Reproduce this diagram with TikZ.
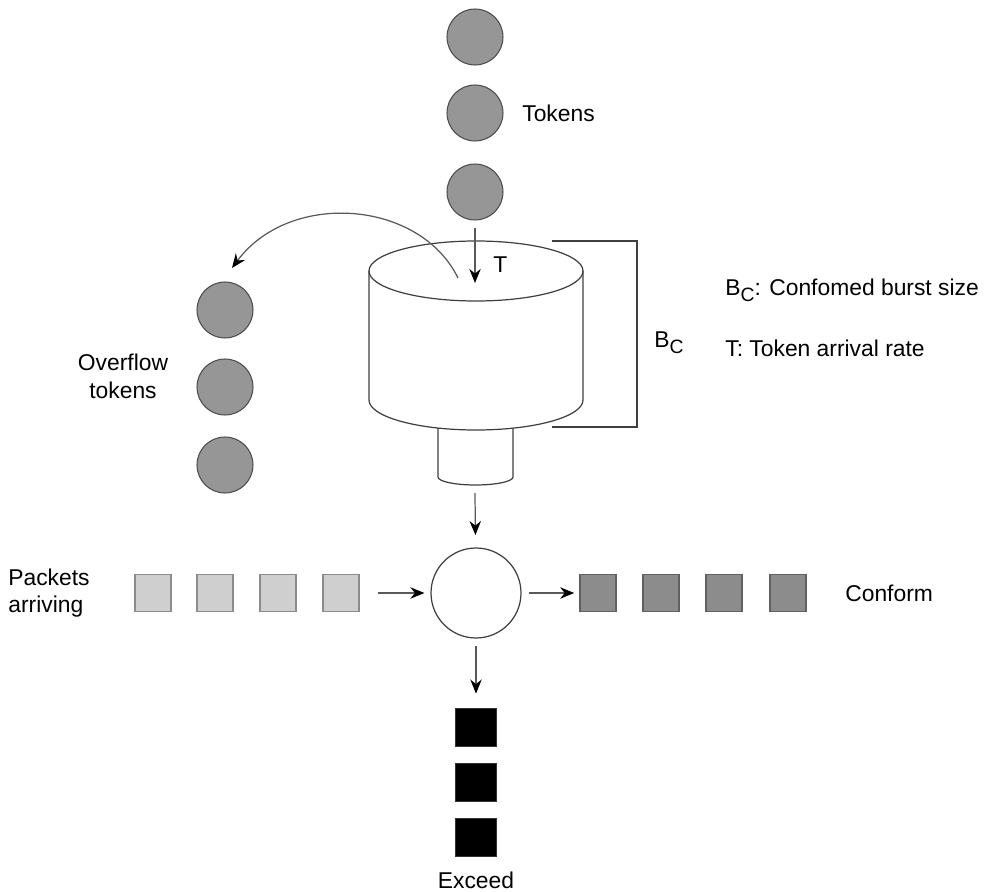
\documentclass[tikz,border=0pt]{standalone}
\usepackage{fontspec}
\setmainfont{Liberation Sans}
\usetikzlibrary{arrows.meta}

\tikzset{
    token/.style={circle, draw=black!70, fill=black!41, minimum size=1.12cm, inner sep=0pt, line width=0.6pt},
    pktin/.style={draw=black!45, fill=black!19, minimum width=0.72cm, minimum height=0.74cm, inner sep=0pt, line width=0.6pt},
    pktok/.style={draw=black!62, fill=black!45, minimum width=0.72cm, minimum height=0.74cm, inner sep=0pt, line width=0.6pt},
    pktex/.style={fill=black, draw=black!80, minimum width=0.82cm, minimum height=0.76cm, inner sep=0pt},
    lbl/.style={inner sep=0pt, font=\fontsize{13}{16}\selectfont},
    flow/.style={-{Stealth[length=8pt, width=6.5pt, color=black]}, line width=0.7pt, black!65},
    outline/.style={line width=0.7pt, black!75},
}

\begin{document}
\begin{tikzpicture}[x=0.02cm, y=-0.02cm]
    \useasboundingbox (0,0) rectangle (992,892);

    % Tokens dropping into the bucket
    \foreach \n/\y in {1/37, 2/113, 3/192} {
        \node[token] (tok\n) at (475,\y) {};
    }
    \node[lbl, anchor=west] (toklbl) at (522,113) {Tokens};

    % Overflow tokens
    \foreach \n/\y in {1/310, 2/387, 3/465} {
        \node[token] (ovf\n) at (225,\y) {};
    }
    \node[lbl, align=center, font=\fontsize{13}{16}\selectfont] (ovflbl) at (123,376) {Overflow\\tokens};

    % Bucket
    \draw[outline] (476,271) ellipse [x radius=107, y radius=30];
    \draw[outline] (369,271) -- (369,400) arc[start angle=180, end angle=0, x radius=107, y radius=30] -- (583,271);
    \draw[outline] (438,428) -- (438,477) arc[start angle=180, end angle=0, x radius=37.5, y radius=8] -- (513,428);

    \coordinate (bktin) at (475,283);
    \coordinate (bktout) at (458,278);
    \coordinate (ovfend) at (232,268);
    \coordinate (spout) at (475,493);

    \draw[flow, shorten <=4pt] (tok3) -- (bktin);
    \node[lbl, anchor=west] (tlbl) at (493,265) {T};
    \draw[flow] (bktout) .. controls (420,200) and (290,190) .. (ovfend);

    % Bucket depth
    \draw[outline] (552,241) -- (637,241) -- (637,427) -- (552,427);
    \node[lbl, anchor=west] (bclbl) at (654,343) {B\raisebox{-0.5ex}{\fontsize{11}{13}\selectfont C}};

    % Legend
    \node[lbl, anchor=west] (leg1) at (725,290) {B\raisebox{-0.5ex}{\fontsize{11}{13}\selectfont C}: Confomed burst size};
    \node[lbl, anchor=west] (leg2) at (725,348) {T: Token arrival rate};

    % Meter
    \node[circle, outline, draw, minimum size=1.8cm, inner sep=0pt] (meter) at (476,593) {};
    \draw[flow, shorten >=7pt] (spout) -- (meter);

    % Packets
    \foreach \n/\x in {1/153, 2/215, 3/278, 4/341} {
        \node[pktin] (in\n) at (\x,593) {};
    }
    \foreach \n/\x in {1/598, 2/661, 3/724, 4/788} {
        \node[pktok] (ok\n) at (\x,593) {};
    }
    \foreach \n/\y in {1/727, 2/782, 3/837} {
        \node[pktex] (ex\n) at (476,\y) {};
    }
    \draw[flow, shorten <=10.5pt, shorten >=3.4pt] (in4) -- (meter);
    \draw[flow, shorten <=4pt, shorten >=3pt] (meter) -- (ok1);
    \draw[flow, shorten <=4pt, shorten >=8pt] (meter) -- (ex1);

    \node[lbl, anchor=west, align=left, font=\fontsize{13}{15}\selectfont] (inlbl) at (8,593) {Packets\\arriving};
    \node[lbl, anchor=west] (oklbl) at (845,593) {Conform};
    \node[lbl] (exlbl) at (476,880) {Exceed};
\end{tikzpicture}
\end{document}
